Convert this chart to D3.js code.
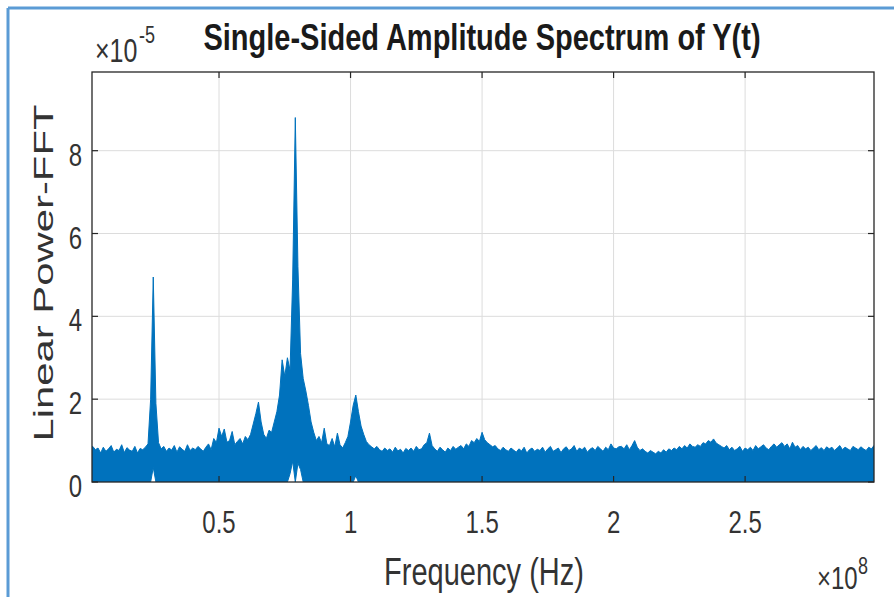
<!DOCTYPE html>
<html lang="en">
<head>
<meta charset="UTF-8">
<title>Single-Sided Amplitude Spectrum of Y(t)</title>
<script src="https://cdn.jsdelivr.net/npm/d3@7"></script>
<style>
  body { margin: 0; background: #fff; }
  text { font-family: "Liberation Sans", Arial, Helvetica, sans-serif; fill: #333; }
</style>
</head>
<body>
<svg id="chart" width="894" height="597"></svg>
<script>
// frequency axis in units of 1e8 Hz, amplitude in units of 1e-5
const freqStart = 0.01;
const freqStep = 0.01;

// upper envelope of the spectrum (0.01 .. 2.99)
const amplitude = [
  0.85, 0.86, 0.78, 0.82, 0.70, 0.84, 0.74, 0.80, 0.88, 0.72, 0.79,
  0.76, 0.90, 0.71, 0.83, 0.77, 0.74, 0.86, 0.70, 0.81, 0.78,
  0.84, 0.92, 2.00, 4.95, 1.90, 0.95, 0.80, 0.86, 0.74, 0.82,
  0.77, 0.88, 0.72, 0.85, 0.79, 0.74, 0.90, 0.76, 0.82, 0.78,
  0.86, 0.80, 0.74, 0.84, 0.92, 0.78, 1.05, 0.95, 1.30, 1.10,
  1.28, 0.96, 1.00, 1.22, 0.90, 0.98, 1.05, 0.92, 1.10, 1.02,
  1.15, 1.40, 1.65, 1.93, 1.45, 1.15, 1.05, 1.25, 1.20, 1.45,
  1.70, 2.10, 2.95, 2.55, 3.00, 2.70, 4.90, 8.80, 5.20, 3.10,
  2.50, 2.20, 1.85, 1.45, 1.20, 1.00, 1.10, 0.95, 1.30, 0.92,
  0.88, 1.05, 0.85, 1.18, 0.90, 0.82, 0.95, 1.10, 1.45, 1.85,
  2.10, 1.70, 1.35, 1.15, 0.98, 0.90, 0.85, 0.80, 0.86, 0.78,
  0.74, 0.82, 0.76, 0.80, 0.72, 0.84, 0.75, 0.79, 0.70, 0.81,
  0.76, 0.82, 0.74, 0.86, 0.78, 0.80, 0.90, 0.95, 1.18, 0.88,
  0.80, 0.74, 0.84, 0.78, 0.72, 0.82, 0.76, 0.86, 0.79, 0.84,
  0.88, 0.80, 0.92, 0.86, 1.00, 0.95, 1.05, 0.98, 1.20, 1.02,
  0.95, 0.90, 0.85, 0.88, 0.80, 0.76, 0.84, 0.78, 0.74, 0.82,
  0.77, 0.72, 0.80, 0.75, 0.84, 0.70, 0.78, 0.82, 0.74, 0.79,
  0.76, 0.84, 0.72, 0.80, 0.86, 0.74, 0.78, 0.82, 0.71, 0.80,
  0.85, 0.76, 0.80, 0.88, 0.74, 0.82, 0.78, 0.84, 0.72, 0.79,
  0.83, 0.76, 0.86, 0.80, 0.74, 0.84, 0.78, 0.92, 0.82, 0.80,
  0.85, 0.86, 0.80, 0.90, 0.78, 0.88, 1.00, 0.84, 0.76, 0.80,
  0.74, 0.70, 0.76, 0.72, 0.68, 0.74, 0.70, 0.78, 0.72, 0.80,
  0.76, 0.82, 0.78, 0.86, 0.80, 0.88, 0.82, 0.92, 0.86, 0.84,
  0.90, 0.86, 0.95, 0.92, 1.00, 0.96, 1.04, 0.94, 0.90, 0.86,
  0.82, 0.88, 0.78, 0.84, 0.76, 0.80, 0.86, 0.74, 0.82, 0.78,
  0.84, 0.76, 0.88, 0.80, 0.85, 0.90, 0.82, 0.78, 0.86, 0.92,
  0.84, 0.90, 0.95, 0.86, 0.92, 0.80, 0.96, 0.84, 0.88, 0.78,
  0.86, 0.80, 0.84, 0.76, 0.82, 0.88, 0.78, 0.83, 0.76, 0.85,
  0.80, 0.84, 0.76, 0.82, 0.88, 0.78, 0.84, 0.80, 0.76, 0.86,
  0.82, 0.78, 0.85, 0.80, 0.76, 0.84, 0.80, 0.88
];

// places where the bottom of the trace leaves zero (white notches)
const lowerFreq = [0.25, 0.77, 0.78, 0.79, 0.80, 0.81, 1.02];
const lowerAmp  = [0.35, 0.20, 0.50, 0.00, 0.45, 0.30, 0.15];

const xTicks = [0.5, 1, 1.5, 2, 2.5];
const yTicks = [0, 2, 4, 6, 8];

const svg = d3.select('#chart');
const K = 1.33; // picture is stretched vertically

const plot = { left: 92, right: 874, top: 72, bottom: 482 };
const x = d3.scaleLinear().domain([0.0171, 2.99]).range([plot.left, plot.right]);
const y = d3.scaleLinear().domain([0, 9.9]).range([plot.bottom, plot.top]);

// page border
svg.append('line').attr('x1', 8).attr('y1', 8).attr('x2', 8).attr('y2', 597)
  .attr('stroke', '#5b9bd5').attr('stroke-width', 3);
svg.append('line').attr('x1', 8).attr('y1', 8).attr('x2', 894).attr('y2', 8)
  .attr('stroke', '#5b9bd5').attr('stroke-width', 3);

// grid
const grid = svg.append('g').attr('stroke', '#dcdcdc').attr('stroke-width', 1);
xTicks.forEach(t => {
  grid.append('line').attr('x1', x(t)).attr('x2', x(t)).attr('y1', plot.top).attr('y2', plot.bottom);
});
yTicks.filter(t => t > 0).forEach(t => {
  grid.append('line').attr('x1', plot.left).attr('x2', plot.right).attr('y1', y(t)).attr('y2', y(t));
});

// data
const lowerMap = new Map(lowerFreq.map((f, i) => [f.toFixed(2), lowerAmp[i]]));
const data = amplitude.map((v, i) => {
  const f = freqStart + i * freqStep;
  return { f: f, hi: v, lo: lowerMap.get(f.toFixed(2)) || 0 };
});

svg.append('clipPath').attr('id', 'clip').append('rect')
  .attr('x', plot.left).attr('y', plot.top)
  .attr('width', plot.right - plot.left).attr('height', plot.bottom - plot.top);

const area = d3.area()
  .x(d => x(d.f))
  .y0(d => y(d.lo))
  .y1(d => y(d.hi));

svg.append('path')
  .datum(data)
  .attr('clip-path', 'url(#clip)')
  .attr('d', area)
  .attr('fill', '#0072bd')
  .attr('stroke', '#0072bd')
  .attr('stroke-width', 1);

// frame and ticks
svg.append('rect')
  .attr('x', plot.left).attr('y', plot.top)
  .attr('width', plot.right - plot.left).attr('height', plot.bottom - plot.top)
  .attr('fill', 'none').attr('stroke', '#262626').attr('stroke-width', 1.3);

const tickLen = 6;
const ticks = svg.append('g').attr('stroke', '#262626').attr('stroke-width', 1.2);
xTicks.forEach(t => {
  ticks.append('line').attr('x1', x(t)).attr('x2', x(t)).attr('y1', plot.bottom).attr('y2', plot.bottom - tickLen);
  ticks.append('line').attr('x1', x(t)).attr('x2', x(t)).attr('y1', plot.top).attr('y2', plot.top + tickLen);
});
yTicks.forEach(t => {
  ticks.append('line').attr('x1', plot.left).attr('x2', plot.left + tickLen).attr('y1', y(t)).attr('y2', y(t));
  ticks.append('line').attr('x1', plot.right).attr('x2', plot.right - tickLen).attr('y1', y(t)).attr('y2', y(t));
});

// text, stretched vertically like the picture
function label(px, py, str, size, anchor, weight, k) {
  const t = svg.append('g')
    .attr('transform', `translate(${px},${py}) scale(1,${k || K})`)
    .append('text')
    .attr('font-size', size)
    .attr('text-anchor', anchor || 'middle')
    .attr('font-weight', weight || 'normal')
    .text(str);
  return t;
}

xTicks.forEach(t => label(x(t), 533, String(t), 24, 'middle'));
yTicks.forEach(t => label(82, y(t) + 15, String(t), 24, 'end'));

label(482, 50, 'Single-Sided Amplitude Spectrum of Y(t)', 29, 'middle', 'bold', 1.27).style('fill', '#1a1a1a');
label(484, 585, 'Frequency (Hz)', 29, 'middle');

// y label
svg.append('text')
  .attr('transform', 'translate(53,273) rotate(-90)')
  .attr('font-size', 28)
  .attr('text-anchor', 'middle')
  .attr('textLength', 337)
  .attr('lengthAdjust', 'spacingAndGlyphs')
  .text('Linear Power-FFT');

// exponent labels
label(95, 62, '\u00d710', 25, 'start');
label(139, 43, '-5', 18, 'start');
label(817, 589, '\u00d710', 24, 'start');
label(858, 574, '8', 18, 'start');
</script>
</body>
</html>
